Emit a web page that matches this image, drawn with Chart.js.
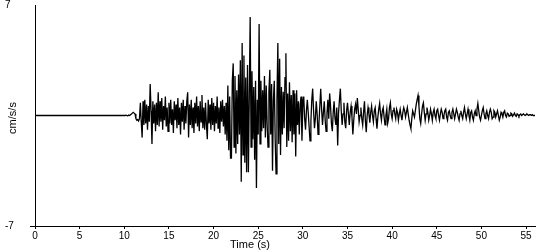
<!DOCTYPE html>
<html>
<head>
<meta charset="utf-8">
<script src="https://cdn.jsdelivr.net/npm/chart.js@4.4.0/dist/chart.umd.min.js"></script>
<style>
html, body { margin: 0; padding: 0; background: #fff; }
</style>
</head>
<body>
<canvas id="quake" width="550" height="250"></canvas>
<script>
// quiet record before the event
const quietTimes = [0];
const quietValues = [0];

// acceleration samples (cm/s/s), one every 0.1 s starting at 10 s
const startTime = 10;
const sampleStep = 0.1;
const accel = [
  0, 0, 0.02, 0, -0.02, 0.03, 0, 0.05, 0.1, 0.15,              // 10
  0.2, 0.15, 0.1, -0.2, -0.3, -0.25, -0.35, -0.2, 0.8, -0.4,   // 11
  -1.4, 0.9, -0.6, 1.0, -0.5, 0.7, -0.9, 0.6, -0.4, 2.0,       // 12
  0.3, -1.8, 0.9, -0.5, 0.7, -1.0, 0.8, -0.6, 1.47, -0.7,      // 13
  0.9, -0.4, 1.1, -0.9, 0.6, -0.3, 1.2, -0.7, 0.5, -1.0,       // 14
  0.8, -0.5, 1.0, -0.6, 0.4, -1.1, 0.9, -0.3, 0.7, -0.8,       // 15
  1.1, -0.6, 0.5, -1.2, 0.8, -0.4, 1.0, -0.9, 0.6, -0.5,       // 16
  0.9, 1.47, -1.4, 0.7, -0.6, 1.0, -0.8, 0.5, -1.1, 0.8,       // 17
  -0.5, 1.2, -0.7, 0.6, -1.0, 0.9, -0.4, 1.3, -0.8, 0.5,       // 18
  -0.9, 0.8, -0.6, -1.5, 1.0, -0.5, 0.7, -0.9, 1.1, -0.6,      // 19
  0.8, -1.0, 0.6, -0.5, 1.2, -0.8, 0.5, -1.1, 0.9, -0.4,       // 20
  1.0, -0.7, 0.6, -1.2, 0.8, -1.6, 1.9, -2.2, 1.2, -2.7,       // 21
  -2.7, 2.2, 3.3, -2.0, 2.5, -2.4, 1.6, -1.8, 2.6, -1.2,       // 22
  3.5, -4.2, 4.6, -2.5, 3.8, -3.0, 2.4, -3.6, 3.2, -3.6,       // 23
  1.2, 6.24, -2.0, 2.8, -1.5, 1.8, -2.8, 2.2, -4.6, 1.0,       // 24
  -1.2, 5.8, -1.8, 2.2, -1.0, 1.6, -0.8, 2.5, -1.4, 1.9,       // 25
  -0.6, -2.0, 1.5, 2.9, -1.2, 2.0, -3.5, 1.0, 2.2, -1.5,       // 26
  -3.7, 1.0, 4.6, -1.8, 3.6, -2.5, 1.8, -1.2, 1.5, -0.8,       // 27
  2.4, 3.95, -2.0, 1.4, -1.6, 2.1, -1.0, 1.3, -1.7, 1.6,       // 28
  -1.2, 1.4, -2.6, 1.6, -0.6, 0.9, -1.2, 0.7, 1.2, -1.6,       // 29
  0.8, 1.2, -0.2, -0.9, 0.3, 1.0, 0.2, -0.7, -1.6, -0.4,       // 30
  1.0, 1.7, 0.3, -0.8, -0.2, 0.9, 0.1, -1.2, -0.5, 0.6,        // 31
  1.7, 0.4, -0.6, 0.2, 0.9, -0.3, -1.0, 0.1, 1.0, -0.2,        // 32
  1.4, 0.6, -0.5, -1.0, 0.2, 0.9, -0.2, -0.6, 0.5, -1.9,       // 33
  0.2, 1.0, 1.7, 0.3, -0.6, 0.1, 0.8, -0.4, -0.8, 0.3,         // 34
  0.8, 0.1, -0.6, 0.2, 0.6, -0.1, -1.2, -0.3, 0.4, 0.7,        // 35
  0.1, 1.1, 0.4, -0.4, 0.0, 0.5, -0.2, -0.6, 0.2, 0.9,         // 36
  -0.3, -1.06, 0.0, 0.5, 0.1, -0.45, 0.2, 0.6, 0.0, -0.4,      // 37
  0.3, 0.5, -0.2, -0.83, -0.1, 0.4, 0.76, 0.1, -0.3, 0.3,      // 38
  0.5, -0.1, -0.6, 0.0, 0.4, -0.5, -0.2, 0.5, 0.8, 0.1,        // 39
  -0.2, 0.3, 0.5, 0.1, -0.2, 0.4, 0.2, -0.3, 0.1, 0.4,         // 40
  0.0, -0.3, 0.2, 0.5, 0.3, -0.1, 0.2, 0.5, 0.1, -0.3,         // 41
  -0.6, -0.83, -0.2, 0.3, 0.1, -0.1, 0.3, 0.7, 1.0, 1.27,      // 42
  0.6, -0.2, -0.5, 0.1, 0.6, 0.8, 0.2, -0.3, 0.1, 0.5,         // 43
  0.2, -0.3, 0.0, 0.4, 0.1, -0.3, 0.2, 0.4, 0.0, -0.2,         // 44
  0.3, 0.4, 0.0, -0.3, 0.1, 0.4, 0.2, -0.2, 0.0, 0.3,          // 45
  0.4, -0.1, -0.3, 0.2, 0.3, 0.0, -0.2, 0.2, 0.4, 0.1,         // 46
  -0.2, 0.1, 0.4, 0.2, -0.1, -0.3, 0.1, 0.3, 0.0, -0.2,        // 47
  0.2, 0.5, 0.1, -0.2, 0.1, 0.4, 0.0, -0.3, 0.2, 0.3,          // 48
  -0.1, -0.3, 0.1, 0.3, 0.0, 0.4, 0.76, 0.3, -0.1, -0.3,       // 49
  0.0, 0.3, 0.5, 0.1, -0.2, 0.1, 0.3, 0.0, -0.2, 0.2,          // 50
  0.4, 0.2, -0.2, -0.1, 0.3, 0.2, -0.1, 0.1, 0.3, 0.0,         // 51
  -0.3, -0.1, 0.2, 0.1, -0.1, 0.2, 0.3, 0.0, -0.1, 0.15,       // 52
  0.1, -0.05, 0.0, 0.15, 0.1, -0.05, 0.05, 0.15, 0.0, -0.05,   // 53
  0.1, 0.05, -0.05, 0.05, 0.1, 0.0, 0.05, 0.1, 0.05, 0.0,      // 54
  0.05, 0.1, 0.05, 0.0, 0.05, 0.05, 0.0, 0.05, 0.0, 0.0,       // 55
  0.0                                                          // 56
];

const xTicks = [0, 5, 10, 15, 20, 25, 30, 35, 40, 45, 50, 55];
const yTicks = [-7, 7];

const points = quietTimes.map((t, i) => ({ x: t, y: quietValues[i] }))
  .concat(accel.map((v, i) => ({ x: startTime + i * sampleStep, y: v })));

const labelFont = { family: 'Liberation Sans', size: 10 };

// axis titles sit off-centre in the original, so draw them by hand
const axisTitles = {
  id: 'axisTitles',
  afterDraw(chart) {
    const ctx = chart.ctx;
    ctx.save();
    ctx.fillStyle = '#000';
    ctx.font = '11px "Liberation Sans"';
    ctx.textAlign = 'center';
    ctx.textBaseline = 'middle';
    ctx.fillText('Time (s)', 250, 245);
    ctx.translate(13, 118);
    ctx.rotate(-Math.PI / 2);
    ctx.fillText('cm/s/s', 0, 0);
    ctx.restore();
  }
};

new Chart(document.getElementById('quake'), {
  type: 'line',
  data: {
    datasets: [{
      data: points,
      borderColor: '#000',
      borderWidth: 1.3,
      pointRadius: 0,
      tension: 0,
      fill: false
    }]
  },
  options: {
    responsive: false,
    animation: false,
    layout: { padding: { left: 5, right: 15, top: 5, bottom: 0 } },
    plugins: {
      legend: { display: false },
      tooltip: { enabled: false }
    },
    scales: {
      x: {
        type: 'linear',
        min: 0,
        max: 56,
        afterBuildTicks: scale => { scale.ticks = xTicks.map(v => ({ value: v })); },
        afterFit: scale => { scale.height = 24; scale.paddingLeft = 0; scale.paddingRight = 0; },
        ticks: { color: '#000', font: labelFont, padding: 1, maxRotation: 0 },
        grid: { drawOnChartArea: false, tickLength: 3, color: '#000', tickColor: '#000' },
        border: { color: '#000', width: 1 }
      },
      y: {
        type: 'linear',
        min: -7,
        max: 7,
        afterBuildTicks: scale => { scale.ticks = yTicks.map(v => ({ value: v })); },
        afterFit: scale => { scale.width = 30; scale.paddingTop = 0; scale.paddingBottom = 0; },
        ticks: { color: '#000', font: labelFont, crossAlign: 'far' },
        grid: {
          drawOnChartArea: false,
          tickLength: 5,
          tickColor: ctx => ctx.tick && ctx.tick.value === -7 ? '#000' : 'rgba(0,0,0,0)'
        },
        border: { color: '#000', width: 1 }
      }
    }
  },
  plugins: [axisTitles]
});
</script>
</body>
</html>
